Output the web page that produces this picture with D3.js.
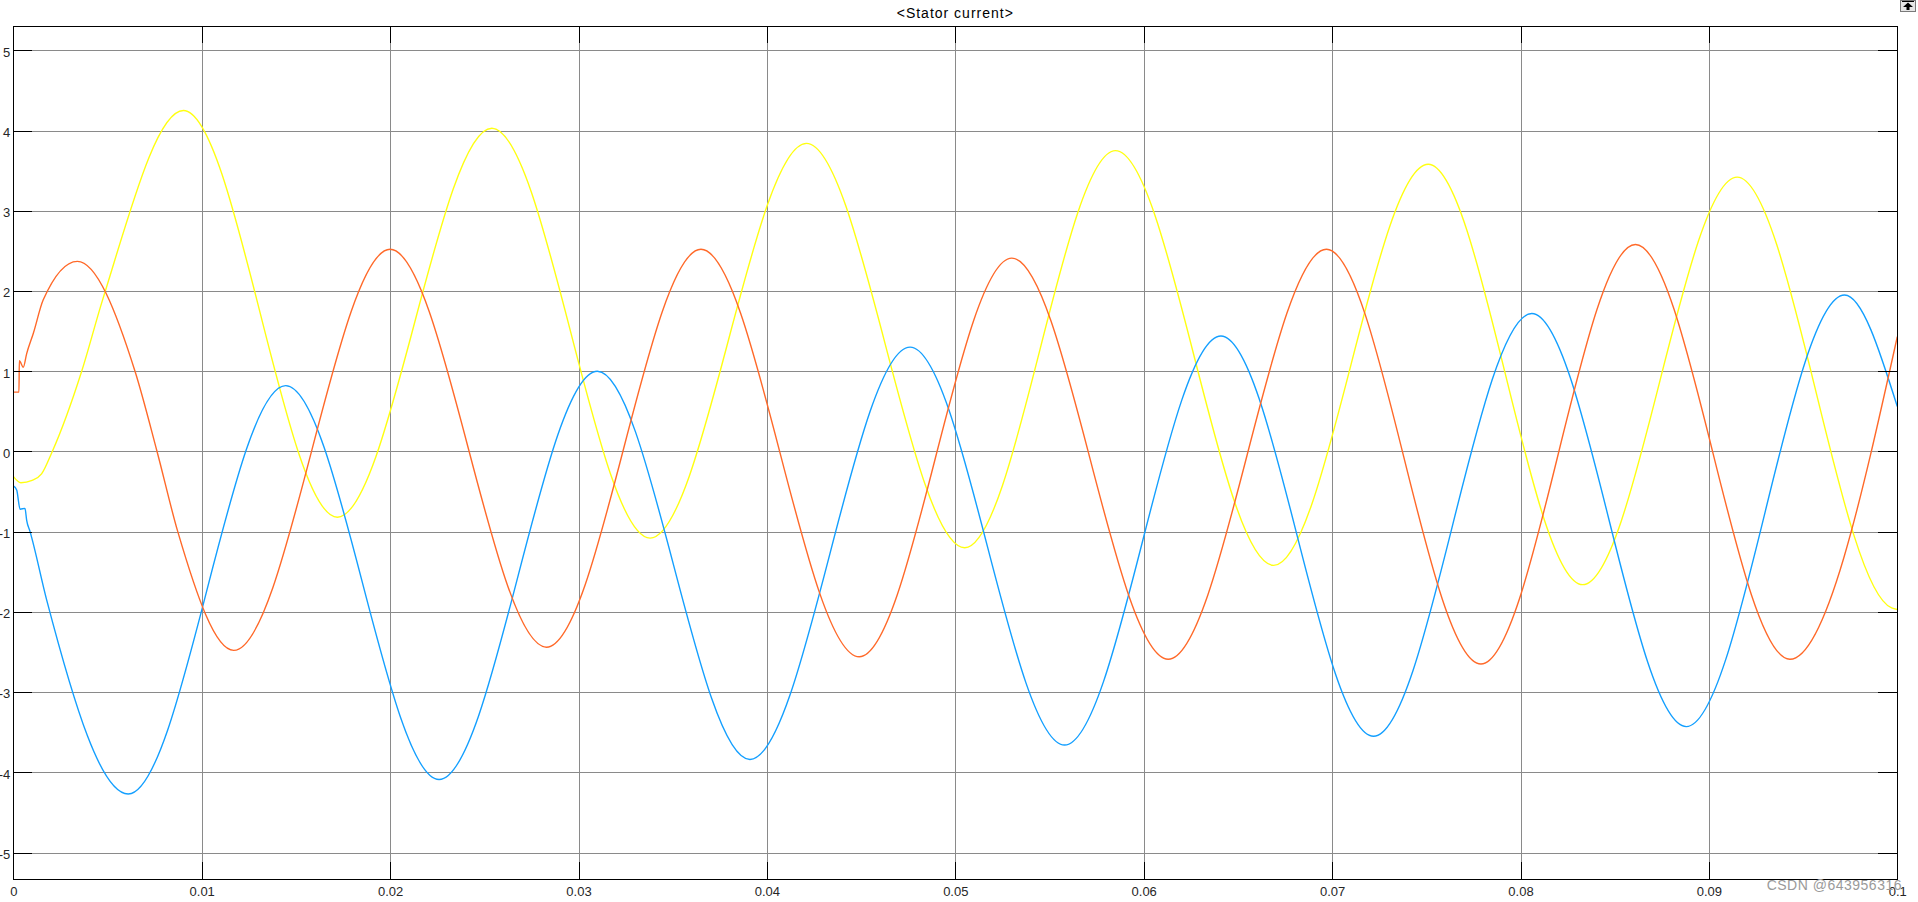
<!DOCTYPE html>
<html>
<head>
<meta charset="utf-8">
<script src="https://cdn.jsdelivr.net/npm/d3@7"></script>
<style>
  html, body { margin: 0; padding: 0; background: #ffffff; }
  svg { display: block; font-family: Arial, "Liberation Sans", sans-serif; }
</style>
</head>
<body>
<svg id="chart" width="1918" height="902"></svg>
<script>
// ---------- data ----------
const title = "<Stator current>";
const xTicks = [0, 0.01, 0.02, 0.03, 0.04, 0.05, 0.06, 0.07, 0.08, 0.09, 0.1];
const xTickLabels = ["0", "0.01", "0.02", "0.03", "0.04", "0.05", "0.06", "0.07", "0.08", "0.09", "0.1"];
const yTicks = [-5, -4, -3, -2, -1, 0, 1, 2, 3, 4, 5];
const yTickLabels = ["-5", "-4", "-3", "-2", "-1", "0", "1", "2", "3", "4", "5"];

// phase A (yellow): start-up samples, then the successive peaks / troughs
const yellowT = [0, 0.0004, 0.001, 0.0015, 0.00207, 0.00363, 0.00474, 0.00903, 0.0172, 0.0254, 0.0338, 0.0421, 0.0505, 0.0585, 0.0669, 0.0751, 0.0833, 0.0915, 0.0997, 0.1];
const yellowV = [-0.31, -0.39, -0.36, -0.28, 0, 1.0, 1.89, 4.25, -0.82, 4.03, -1.08, 3.84, -1.2, 3.75, -1.42, 3.58, -1.66, 3.42, -1.95, -1.97];

// phase B (blue)
const blueT = [0, 0.00018, 0.00036, 0.00062, 0.00071, 0.00089, 0.00177, 0.0061, 0.01446, 0.0226, 0.0310, 0.0391, 0.0476, 0.0558, 0.0641, 0.0722, 0.0806, 0.0888, 0.0972, 0.1];
const blueV = [-0.43, -0.48, -0.72, -0.71, -0.86, -1.0, -1.85, -4.27, 0.82, -4.09, 1.0, -3.84, 1.3, -3.66, 1.44, -3.55, 1.72, -3.43, 1.95, 0.56];

// phase C (orange)
const orangeT = [0, 0.0003, 0.00032, 0.00053, 0.00071, 0.00106, 0.00159, 0.0034, 0.00646, 0.00763, 0.00873, 0.0117, 0.0200, 0.0283, 0.0365, 0.0449, 0.0530, 0.0613, 0.0697, 0.0779, 0.0861, 0.0943, 0.1];
const orangeV = [0.74, 0.74, 1.13, 1.05, 1.22, 1.47, 1.89, 2.37, 1.0, 0, -1.0, -2.48, 2.52, -2.44, 2.52, -2.56, 2.41, -2.59, 2.52, -2.65, 2.58, -2.59, 1.43];

const seriesColors = ["#ffff11", "#139fff", "#ff6929"];

// ---------- layout ----------
const W = 1918, H = 902;
const pLeft = 13.3, pRight = 1897.3, pTop = 26.3, pBottom = 879;

const svg = d3.select("#chart");
svg.append("rect").attr("width", W).attr("height", H).attr("fill", "#ffffff");

const x = d3.scaleLinear().domain([0, 0.1]).range([pLeft, pRight]);
const y = d3.scaleLinear().domain([-5.33, 5.3]).range([pBottom, pTop]);

// grid
const grid = svg.append("g").attr("class", "grid");
grid.append("g").attr("transform", `translate(0,${pBottom})`)
  .call(d3.axisBottom(x).tickValues(xTicks).tickSize(-(pBottom - pTop)).tickFormat(""))
  .call(g => g.select(".domain").remove())
  .call(g => g.selectAll("line").attr("stroke", "#8a8a8a").attr("stroke-width", 1).attr("shape-rendering", "crispEdges"));
grid.append("g").attr("transform", `translate(${pLeft},0)`)
  .call(d3.axisLeft(y).tickValues(yTicks).tickSize(-(pRight - pLeft)).tickFormat(""))
  .call(g => g.select(".domain").remove())
  .call(g => g.selectAll("line").attr("stroke", "#8a8a8a").attr("stroke-width", 1).attr("shape-rendering", "crispEdges"));

// curves
const line = d3.line().x(d => x(d[0])).y(d => y(d[1])).curve(d3.curveMonotoneX);
const series = [
  d3.zip(yellowT, yellowV),
  d3.zip(blueT, blueV),
  d3.zip(orangeT, orangeV)
];
svg.append("clipPath").attr("id", "clip")
  .append("rect").attr("x", pLeft).attr("y", pTop).attr("width", pRight - pLeft).attr("height", pBottom - pTop);
svg.append("g").attr("clip-path", "url(#clip)")
  .selectAll("path").data(series).join("path")
  .attr("d", line)
  .attr("fill", "none")
  .attr("stroke", (d, i) => seriesColors[i])
  .attr("stroke-width", 1.4)
  .attr("stroke-linejoin", "round");

// axes with inner ticks
const axStyle = g => {
  g.select(".domain").remove();
  g.selectAll("line").attr("stroke", "#000").attr("stroke-width", 1).attr("shape-rendering", "crispEdges");
  g.selectAll("text").attr("fill", "#262626").attr("font-size", 13);
};
svg.append("g").attr("transform", `translate(${pLeft},0)`)
  .call(d3.axisLeft(y).tickValues(yTicks).tickFormat((d, i) => yTickLabels[i]).tickSize(-19).tickPadding(3))
  .call(axStyle)
  .call(g => g.selectAll("text").attr("dy", "0.45em"));
svg.append("g").attr("transform", `translate(${pRight},0)`)
  .call(d3.axisRight(y).tickValues(yTicks).tickFormat("").tickSize(-19))
  .call(axStyle);
svg.append("g").attr("transform", `translate(0,${pBottom})`)
  .call(d3.axisBottom(x).tickValues(xTicks).tickFormat((d, i) => xTickLabels[i]).tickSize(-17).tickPadding(8))
  .call(axStyle);
svg.append("g").attr("transform", `translate(0,${pTop})`)
  .call(d3.axisTop(x).tickValues(xTicks).tickFormat("").tickSize(-17))
  .call(axStyle);

// frame
svg.append("rect").attr("x", pLeft).attr("y", pTop).attr("width", pRight - pLeft).attr("height", pBottom - pTop)
  .attr("fill", "none").attr("stroke", "#000").attr("stroke-width", 1).attr("shape-rendering", "crispEdges");

// title
svg.append("text").attr("x", (pLeft + pRight) / 2).attr("y", 18)
  .attr("text-anchor", "middle").attr("font-size", 14).attr("letter-spacing", 1)
  .attr("fill", "#000").text(title);

// top-right button icon
const btn = svg.append("g").attr("transform", "translate(1900,0)");
btn.append("rect").attr("x", 0.5).attr("y", 0.5).attr("width", 15).attr("height", 11)
  .attr("fill", "#e6e6e6").attr("stroke", "#7a7a7a");
btn.append("path").attr("d", "M3,7 L8,2.5 L13,7 Z M6.5,7 L9.5,7 L9.5,10 L6.5,10 Z").attr("fill", "#000");
btn.append("line").attr("x1", 2).attr("x2", 14).attr("y1", 1.5).attr("y2", 1.5).attr("stroke", "#000");

// watermark
svg.append("text").attr("x", 1902).attr("y", 890)
  .attr("text-anchor", "end").attr("font-size", 14).attr("letter-spacing", 0.5)
  .attr("fill", "#9a9a9a").text("CSDN @643956316");
</script>
</body>
</html>
